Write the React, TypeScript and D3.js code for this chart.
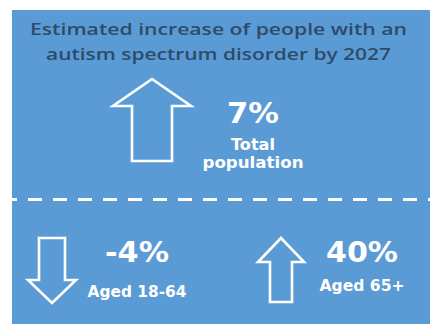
import React from "react";
import * as d3 from "d3";

const titleLines = ["Estimated increase of people with an", "autism spectrum disorder by 2027"];
const categories = ["Total population", "Aged 18-64", "Aged 65+"];
const changes = [7, -4, 40];

const W = 430;
const H = 324;
const BG = "#5B9BD5";
const TITLE_COLOR = "#2D4B6B";

// layout for each panel (positions only)
const layout = [
  { cx: 152, y0: 79, y1: 161, shaftHalf: 20, headHalf: 39, headLen: 27, tx: 253, valueY: 123, labelY: [150, 167.5], labelSize: 16, labelLen: [44, 101], valueLen: 52 },
  { cx: 52, y0: 238, y1: 303, shaftHalf: 13, headHalf: 24, headLen: 23, tx: 137, valueY: 262, labelY: [297], labelSize: 15.5, labelLen: [99], valueLen: 64 },
  { cx: 281, y0: 238, y1: 302, shaftHalf: 11, headHalf: 23, headLen: 24, tx: 362, valueY: 262, labelY: [291], labelSize: 15.5, labelLen: [85], valueLen: 72 },
];

function arrowPoints(l: typeof layout[number], up: boolean): [number, number][] {
  const { cx, y0, y1, shaftHalf, headHalf, headLen } = l;
  if (up) {
    const hb = y0 + headLen;
    return [
      [cx, y0], [cx + headHalf, hb], [cx + shaftHalf, hb], [cx + shaftHalf, y1],
      [cx - shaftHalf, y1], [cx - shaftHalf, hb], [cx - headHalf, hb],
    ];
  }
  const hb = y1 - headLen;
  return [
    [cx, y1], [cx + headHalf, hb], [cx + shaftHalf, hb], [cx + shaftHalf, y0],
    [cx - shaftHalf, y0], [cx - shaftHalf, hb], [cx - headHalf, hb],
  ];
}

const line = d3.line<[number, number]>().curve(d3.curveLinearClosed);
const fmt = (v: number) => `${v}%`;

function labelLines(label: string, i: number): string[] {
  if (i === 0) return label.split(" ");
  return [label];
}

export default function App() {
  return (
    <svg width={W} height={H} style={{ position: "absolute", left: 0, top: 0 }}>
      <rect x={0} y={0} width={W} height={H} fill="#ffffff" />
      <rect x={12} y={10} width={W - 12} height={H - 10} fill={BG} />
      {titleLines.map((t, i) => (
        <text
          key={i}
          x={218.5}
          y={35 + i * 25}
          textAnchor="middle"
          fontFamily="'Open Sans', sans-serif"
          fontWeight={600}
          fontSize={17}
          fill={TITLE_COLOR}
          textLength={i === 0 ? 377 : 345}
          lengthAdjust="spacingAndGlyphs"
        >
          {t}
        </text>
      ))}
      <line
        x1={12}
        x2={W}
        y1={199.5}
        y2={199.5}
        stroke="#ffffff"
        strokeWidth={3}
        strokeDasharray="14 11"
        strokeDashoffset={9}
      />
      {changes.map((v, i) => {
        const l = layout[i];
        const lines = labelLines(categories[i], i);
        return (
          <g key={i}>
            <path
              d={line(arrowPoints(l, v >= 0)) ?? ""}
              fill={BG}
              stroke="#ffffff"
              strokeWidth={2.6}
              strokeLinejoin="miter"
            />
            <text
              x={l.tx}
              y={l.valueY}
              textAnchor="middle"
              fontFamily="'DejaVu Sans', sans-serif"
              fontWeight="bold"
              fontSize={29}
              fill="#ffffff"
              textLength={l.valueLen}
              lengthAdjust="spacingAndGlyphs"
            >
              {fmt(v)}
            </text>
            {lines.map((s, j) => (
              <text
                key={j}
                x={l.tx}
                y={l.labelY[j]}
                textAnchor="middle"
                fontFamily="'DejaVu Sans', sans-serif"
                fontWeight="bold"
                fontSize={l.labelSize}
                fill="#ffffff"
                textLength={l.labelLen[j]}
                lengthAdjust="spacingAndGlyphs"
              >
                {s}
              </text>
            ))}
          </g>
        );
      })}
    </svg>
  );
}
